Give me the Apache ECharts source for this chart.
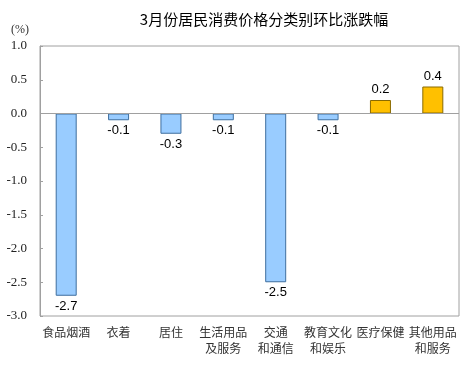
<!DOCTYPE html>
<html><head><meta charset="utf-8">
<script src="https://cdn.jsdelivr.net/npm/echarts@6/dist/echarts.min.js"></script>
<style>html,body{margin:0;padding:0;background:#fff}#c{width:473px;height:366px}</style>
</head><body><div id="c"></div>
<script>
const categories = ['食品烟酒','衣着','居住','生活用品\n及服务','交通\n和通信','教育文化\n和娱乐','医疗保健','其他用品\n和服务'];
const values = [-2.7,-0.1,-0.3,-0.1,-2.5,-0.1,0.2,0.4];
const chartTitle = '3月份居民消费价格分类别环比涨跌幅';
const unitLabel = '(%)';

const chart = echarts.init(document.getElementById('c'));
chart.setOption({
  animation:false,
  title:{text:chartTitle,left:259,top:7,textAlign:'center',textStyle:{fontSize:15,fontWeight:'normal',color:'#000',fontFamily:'Noto Sans CJK SC'}},
  graphic:[{type:'text',left:11,top:24,style:{text:unitLabel,fontSize:12,fill:'#333',fontFamily:'Liberation Serif'}}],
  grid:{left:40,right:14,top:46,bottom:50,show:true,borderColor:'#a0a0a0',borderWidth:1},
  xAxis:{type:'category',data:categories,axisLine:{show:false},axisTick:{show:false},
    axisLabel:{color:'#333',fontSize:12,interval:0,margin:8,lineHeight:16,fontFamily:'Noto Sans CJK SC'}},
  yAxis:{type:'value',min:-3,max:1,interval:0.5,splitLine:{show:false},
    axisLine:{show:true,lineStyle:{color:'#a0a0a0'}},
    axisTick:{show:true,inside:true,length:3,lineStyle:{color:'#a0a0a0'}},
    axisLabel:{color:'#222',fontSize:13,margin:13,fontFamily:'Liberation Serif',formatter:v=>v.toFixed(1)}},
  series:[{type:'bar',barWidth:21,
    data:values.map(v=>({value:v,
      itemStyle:{color:v<0?'#99CCFF':'#FFC000',borderColor:v<0?'#3f6f9f':'#8a6a00',borderWidth:1},
      label:{show:true,position:v<0?'bottom':'top',distance:4,color:'#000',fontSize:13,fontFamily:'Liberation Sans',formatter:p=>p.value.toFixed(1)}})),
    markLine:{silent:true,symbol:'none',label:{show:false},lineStyle:{color:'#a0a0a0',type:'solid',width:1},data:[{yAxis:0}]}
  }]
});
</script></body></html>
